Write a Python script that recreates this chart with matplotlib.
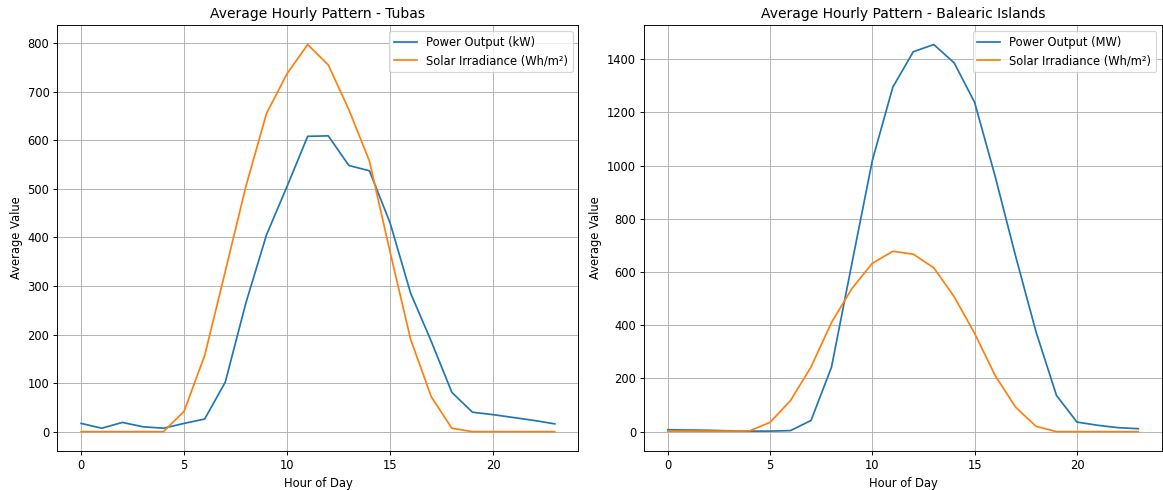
import matplotlib.pyplot as plt

hours = list(range(24))

# Tubas site
tubas_power = [17, 7, 19, 10, 7, 17, 26, 102, 265, 405, 505, 608, 609, 548, 537, 430,
               285, 186, 81, 40, 35, 29, 23, 16]
tubas_irr = [0, 0, 0, 0, 0, 42, 157, 330, 505, 655, 737, 797, 755, 663, 557, 370,
             190, 72, 7, 0, 0, 0, 0, 0]

# Balearic Islands
bal_power = [7, 6, 5, 3, 2, 2, 4, 42, 242, 633, 1020, 1295, 1428, 1455, 1386, 1237,
             960, 660, 375, 136, 36, 24, 15, 11]
bal_irr = [2, 2, 2, 2, 3, 35, 117, 243, 410, 538, 633, 678, 667, 616, 507, 369,
           211, 92, 20, 0, 0, 0, 0, 0]

DPI = 83
fig = plt.figure(figsize=(1163 / DPI, 490 / DPI), dpi=DPI)
ax1 = fig.add_axes([0.0494, 0.0796, 0.448, 0.869])
ax2 = fig.add_axes([0.554, 0.0796, 0.445, 0.869])

ax1.plot(hours, tubas_power, label='Power Output (kW)')
ax1.plot(hours, tubas_irr, label='Solar Irradiance (Wh/m²)')
ax1.set_title('Average Hourly Pattern - Tubas')
ax1.set_xlabel('Hour of Day')
ax1.set_ylabel('Average Value')
ax1.legend(loc='upper right')
ax1.grid(True)

ax2.plot(hours, bal_power, label='Power Output (MW)')
ax2.plot(hours, bal_irr, label='Solar Irradiance (Wh/m²)')
ax2.set_title('Average Hourly Pattern - Balearic Islands')
ax2.set_xlabel('Hour of Day')
ax2.set_ylabel('Average Value')
ax2.legend(loc='upper right')
ax2.grid(True)

fig.savefig('out.png', dpi=DPI)
